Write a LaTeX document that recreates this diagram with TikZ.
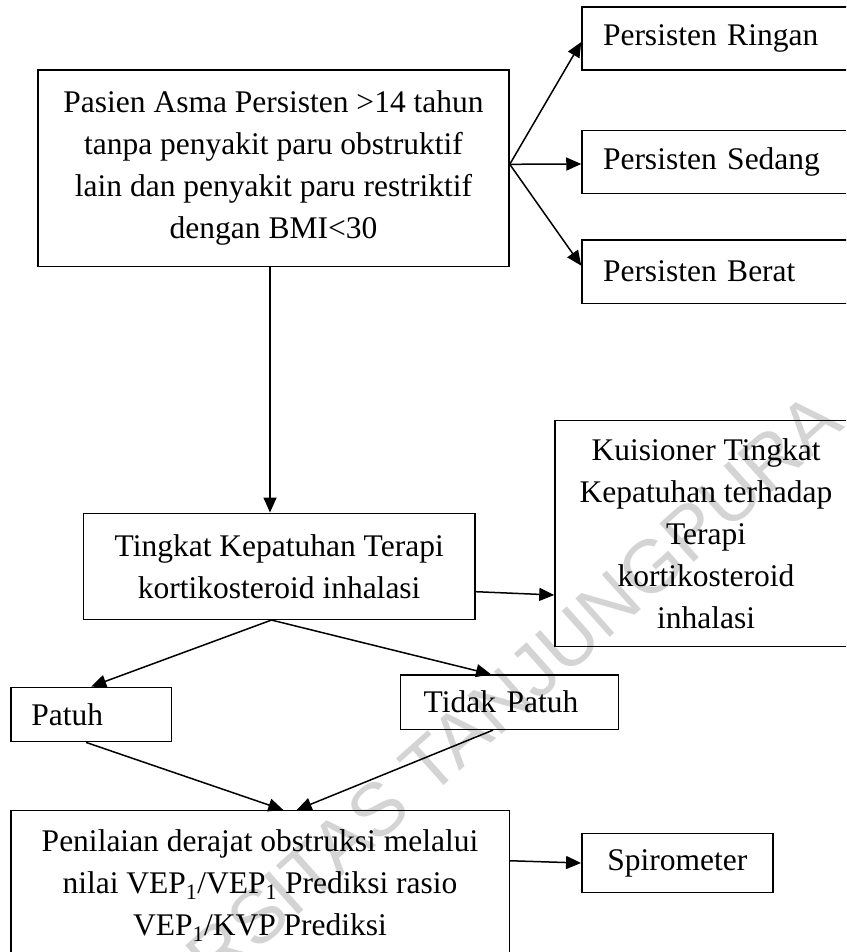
\documentclass[tikz,border=0pt]{standalone}
\usepackage{fontspec}
\setmainfont{Liberation Serif}
\newfontfamily\marksans{Liberation Sans}
\usetikzlibrary{arrows.meta,calc}
\begin{document}
\begin{tikzpicture}[x=1pt,y=-1pt,
  every node/.style={font=\fontsize{31.5pt}{42pt}\selectfont},
  box/.style={draw, line width=1.5pt, inner sep=0pt, align=center},
  lbox/.style={draw, line width=1.5pt, inner ysep=0pt, align=left},
  link/.style={line width=1.5pt, -{Triangle[length=15pt,width=13pt]}}]
\clip (0,0) rectangle (846,952);

% faint watermark behind the chart
\node[rotate=41.7, text=black!17, font=\marksans\fontsize{75pt}{75pt}\selectfont]
  (mark) at (428,765) {UNIVERSITAS TANJUNGPURA};

% patient group and severity classes
\node[box, minimum width=471pt, minimum height=196.7pt] (main) at (273.5,168.3)
  {Pasien Asma Persisten >14 tahun\\tanpa penyakit paru obstruktif\\lain dan penyakit paru restriktif\\dengan BMI<30};
\node[lbox, text width=236pt, inner xsep=21pt, minimum height=63pt] (ringan) at (721,38.5) {Persisten Ringan};
\node[lbox, text width=236pt, inner xsep=21pt, minimum height=62.6pt] (sedang) at (721,162) {Persisten Sedang};
\node[lbox, text width=236pt, inner xsep=21pt, minimum height=63.3pt] (berat) at (721,271.7) {Persisten Berat};

% adherence level and its questionnaire
\node[box, minimum width=391.7pt, minimum height=106pt] (tingkat) at (279.2,566.3)
  {Tingkat Kepatuhan Terapi\\kortikosteroid inhalasi};
\node[box, minimum width=302pt, minimum height=226pt] (kuis) at (706,533.7)
  {Kuisioner Tingkat\\Kepatuhan terhadap\\Terapi\\kortikosteroid\\inhalasi};

% adherence outcome
\node[lbox, text width=119.8pt, inner xsep=20.5pt, minimum height=54.4pt] (patuh) at (91.2,714.5) {Patuh};
\node[lbox, text width=171.6pt, inner xsep=23.2pt, minimum height=54.3pt] (tidak) at (509.5,702.2) {Tidak Patuh};

% obstruction assessment
\node[box, minimum width=498.5pt, minimum height=149.3pt] (nilai) at (260,885.35)
  {Penilaian derajat obstruksi melalui\\nilai VEP\textsubscript{1}/VEP\textsubscript{1} Prediksi rasio\\VEP\textsubscript{1}/KVP Prediksi};
\node[box, minimum width=191pt, minimum height=59.4pt] (spiro) at (677.3,863) {Spirometer};

% connectors
\draw[link] ([yshift=4pt]main.east) -- ([yshift=-3.5pt]ringan.west);
\draw[link] ([yshift=4pt]main.east) -- ([yshift=-2pt]sedang.west);
\draw[link] ([yshift=4pt]main.east) -- ([yshift=6pt]berat.west);
\coordinate (drop) at ([xshift=-3.5pt]main.south);
\draw[link] (drop) -- (drop |- tingkat.north);
\draw[link] ([yshift=-25.4pt]tingkat.east) -- ([yshift=-61.3pt]kuis.west);
\coordinate (split) at ([xshift=-7.7pt]tingkat.south);
\draw[link] (split) -- (patuh.north);
\draw[link] (split) -- ([xshift=-18.5pt]tidak.north);
\draw[link] ([xshift=-5pt]patuh.south) -- ([xshift=23.3pt]nilai.north);
\draw[link] ([xshift=-16.5pt]tidak.south) -- ([xshift=36.7pt]nilai.north);
\draw[link] ([yshift=24.6pt]nilai.east) -- (spiro.west);
\end{tikzpicture}
\end{document}
